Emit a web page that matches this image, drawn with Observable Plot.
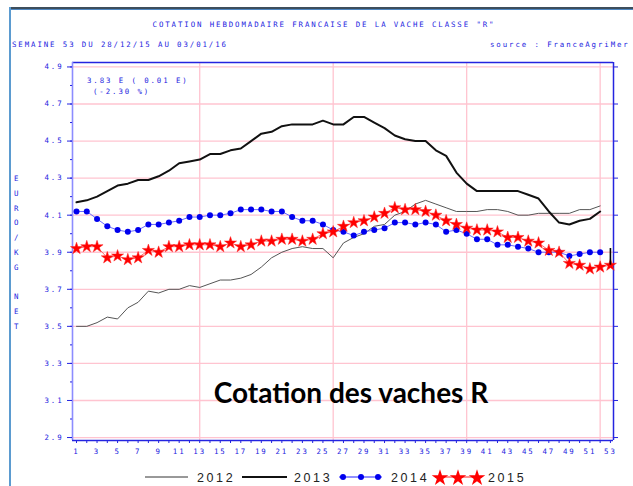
<!DOCTYPE html>
<html><head><meta charset="utf-8">
<script src="https://cdn.jsdelivr.net/npm/d3@7"></script>
<script src="https://cdn.jsdelivr.net/npm/@observablehq/plot@0.6"></script>
<style>
body{margin:0;background:#fff;}
#chart{position:relative;width:633px;height:486px;overflow:hidden;background:#fff}
svg text.sas, #chart g[aria-label$="tick label"] text{font-family:"DejaVu Sans Mono",monospace;font-size:7.4px;letter-spacing:1.9px;fill:#2424e0}
svg text.leg{font-family:"Liberation Sans",sans-serif;font-size:12.5px;letter-spacing:2.6px;fill:#222}
svg text.big{font-family:Lato,sans-serif;font-weight:700;font-size:28px;fill:#000}
</style></head><body><div id="chart"></div>
<script>
const weeks = [1,2,3,4,5,6,7,8,9,10,11,12,13,14,15,16,17,18,19,20,21,22,23,24,25,26,27,28,29,30,31,32,33,34,35,36,37,38,39,40,41,42,43,44,45,46,47,48,49,50,51,52,53];
const v2012 = [3.50,3.50,3.52,3.55,3.54,3.60,3.63,3.69,3.68,3.70, 3.70,3.72,3.71,3.73,3.75,3.75,3.76,3.78,3.82,3.87, 3.90,3.92,3.93,3.92,3.92,3.87,3.95,3.98,4.00,4.04, 4.05,4.10,4.12,4.16,4.18,4.16,4.14,4.12,4.12,4.12, 4.13,4.13,4.12,4.10,4.10,4.11,4.11,4.11,4.11,4.13, 4.13,4.15];
const v2013 = [4.17,4.18,4.20,4.23,4.26,4.27,4.29,4.29,4.31,4.34, 4.38,4.39,4.40,4.43,4.43,4.45,4.46,4.50,4.54,4.55, 4.58,4.59,4.59,4.59,4.61,4.59,4.59,4.63,4.63,4.60, 4.57,4.53,4.51,4.50,4.50,4.45,4.42,4.33,4.27,4.23, 4.23,4.23,4.23,4.23,4.21,4.19,4.12,4.06,4.05,4.07, 4.08,4.12];
const v2014 = [4.12,4.12,4.08,4.04,4.02,4.01,4.02,4.05,4.05,4.06, 4.07,4.09,4.09,4.10,4.10,4.11,4.13,4.13,4.13,4.12, 4.12,4.09,4.07,4.07,4.05,4.02,4.01,3.99,4.01,4.02, 4.03,4.06,4.06,4.05,4.06,4.05,4.01,4.02,4.00,3.97, 3.97,3.94,3.94,3.93,3.92,3.90,3.90,3.90,3.88,3.89, 3.90,3.90];
const v2015 = [3.92,3.93,3.93,3.87,3.88,3.86,3.87,3.91,3.90,3.93, 3.93,3.94,3.94,3.94,3.93,3.95,3.93,3.94,3.96,3.96, 3.97,3.97,3.96,3.97,4.00,4.01,4.04,4.06,4.07,4.09, 4.11,4.14,4.13,4.13,4.12,4.10,4.07,4.05,4.03,4.02, 4.02,4.01,3.98,3.98,3.96,3.95,3.91,3.90,3.84,3.83, 3.81,3.82,3.83];
const yMajor = [2.9,3.1,3.3,3.5,3.7,3.9,4.1,4.3,4.5,4.7,4.9];
const yMinor = [2.9,3.0,3.1,3.2,3.3,3.4,3.5,3.6,3.7,3.8,3.9,4.0,4.1,4.2,4.3,4.4,4.5,4.6,4.7,4.8,4.9];
const xGrid = [13,26,39,52];
const markWeek = [53], markFrom = 3.92, markTo = 3.83;
const yearLabels = ["2012","2013","2014","2015"];
const titleText = "COTATION HEBDOMADAIRE FRANCAISE DE LA VACHE CLASSE \"R\"";
const subText = "SEMAINE 53 DU 28/12/15 AU 03/01/16";
const sourceText = "source : FranceAgriMer";
const note1 = "3.83 E ( 0.01 E)", note2 = "(-2.30 %)";
const yLetters = ["E","U","R","O","/","K","G","","N","E","T"];
const bigText = "Cotation des vaches R";

const blue = "#2424e0";
const pink = "#ffc4d0";
const xDom = [0.61, 53.3], yDom = [2.884, 4.924];
const wk = (a) => a.map((d,i) => weeks[i]);

const chart = Plot.plot({
  width: 633, height: 486,
  marginLeft: 72, marginRight: 20, marginTop: 62, marginBottom: 46,
  x: {domain: xDom, axis: null},
  y: {domain: yDom, axis: null},
  style: {background: "white", overflow: "visible"},
  marks: [
    Plot.ruleY(yMajor, {stroke: pink, strokeWidth: 1.3}),
    Plot.ruleX(xGrid, {stroke: pink, strokeWidth: 1.3}),
    Plot.ruleY([yDom[1]], {stroke: blue, strokeWidth: 1.3}),
    Plot.ruleX([xDom[1]], {stroke: blue, strokeWidth: 1.5}),
    Plot.ruleX([xDom[0]], {stroke: "#8c8cff", strokeWidth: 1.6}),
    Plot.ruleY([yDom[0]], {stroke: blue, strokeWidth: 1.3}),
    Plot.axisY(yMajor, {anchor: "left", tickSize: 5, tickPadding: 4, color: blue, tickFormat: d => d.toFixed(1)}),
    Plot.axisY(yMinor, {anchor: "left", tickSize: 2, text: null, color: blue}),
    Plot.axisY(yMajor, {anchor: "right", tickSize: 4, text: null, color: blue}),
    Plot.axisX(weeks, {anchor: "bottom", tickSize: 3, tickPadding: 5, color: blue, tickFormat: d => d % 2 ? String(d) : ""}),
    Plot.line(v2012, {x: wk(v2012), y: d => d, stroke: "#555", strokeWidth: 1}),
    Plot.line(v2013, {x: wk(v2013), y: d => d, stroke: "#111", strokeWidth: 2}),
    Plot.line(v2014, {x: wk(v2014), y: d => d, stroke: "#6a6aff", strokeWidth: 1}),
    Plot.dot(v2014, {x: wk(v2014), y: d => d, r: 3, fill: "#0000ee", stroke: "none"}),
    Plot.line(v2015, {x: wk(v2015), y: d => d, stroke: "#ff6a6a", strokeWidth: 1}),
    Plot.dot(v2015, {x: wk(v2015), y: d => d, symbol: "star", r: 3.8, fill: "#ff0000", stroke: "#ff2020", strokeWidth: 0.5}),
    Plot.ruleX(markWeek, {y1: markFrom, y2: markTo, stroke: "#000", strokeWidth: 1.6})
  ]
});
document.getElementById("chart").appendChild(chart);

const svg = d3.select(chart);
// outer frame
svg.append("rect").attr("x", 9).attr("y", 7).attr("width", 624).attr("height", 2).attr("fill", "#3d4e5c");
svg.append("rect").attr("x", 9).attr("y", 9).attr("width", 624).attr("height", 1).attr("fill", "#4f86c0");
svg.append("rect").attr("x", 9).attr("y", 7).attr("width", 2).attr("height", 479).attr("fill", "#5b9bd0");

const txt = (cls, x, y, s, anchor = "start") =>
  svg.append("text").attr("class", cls).attr("x", x).attr("y", y).attr("text-anchor", anchor).text(s);

txt("sas", 324, 27, titleText, "middle");
txt("sas", 12, 47, subText);
txt("sas", 490, 47, sourceText);
txt("sas", 87, 83, note1);
txt("sas", 93, 94, note2);
yLetters.forEach((l, i) => txt("sas", 14, 181 + i * 14.8, l));
txt("big", 351, 403, bigText, "middle");

// legend
const ly = 477;
const lg = svg.append("g");
lg.append("line").attr("x1", 145).attr("x2", 188).attr("y1", ly).attr("y2", ly).attr("stroke", "#333").attr("stroke-width", 1);
lg.append("line").attr("x1", 242).attr("x2", 287).attr("y1", ly).attr("y2", ly).attr("stroke", "#111").attr("stroke-width", 2);
lg.append("line").attr("x1", 339).attr("x2", 382).attr("y1", ly).attr("y2", ly).attr("stroke", "#2020ff").attr("stroke-width", 1);
[343, 361, 378].forEach(x => lg.append("circle").attr("cx", x).attr("cy", ly).attr("r", 3).attr("fill", "#0000ee"));
lg.append("line").attr("x1", 435).attr("x2", 482).attr("y1", ly).attr("y2", ly).attr("stroke", "#ff2020").attr("stroke-width", 1);
const star = d3.symbol(d3.symbolStar, 85)();
[440, 458, 477].forEach(x => lg.append("path").attr("d", star).attr("transform", `translate(${x},${ly + 1})`).attr("fill", "#ff0000"));
[197, 294, 391, 488].forEach((x, i) => txt("leg", x, ly + 5, yearLabels[i]));
</script></body></html>
